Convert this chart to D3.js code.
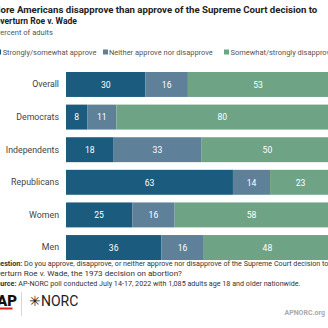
<!DOCTYPE html>
<html><head><meta charset="utf-8">
<script src="https://cdn.jsdelivr.net/npm/d3@7"></script>
<style>body{margin:0;background:#fff;overflow:hidden}svg{display:block;font-family:Roboto,"Noto Sans",sans-serif}</style>
</head><body>
<script>
const categories = ["Overall","Democrats","Independents","Republicans","Women","Men"];
const approve = [30,8,18,63,25,36];
const neither = [16,11,33,14,16,16];
const disapprove = [53,80,50,23,58,48];
const seriesNames = ["Strongly/somewhat approve","Neither approve nor disapprove","Somewhat/strongly disapprove"];
const colors = ["#1b5b7e","#5e8099","#6ea386"];

const W=328,H=328;
const svg=d3.select("body").append("svg").attr("width",W).attr("height",H);

// helper: place multi-part text so visible portion (after prefix) spans x0..x1
function fitLine(parts, prefix, prefixBold, x0, x1, y, fill){
  const base=10;
  const t=svg.append("text").attr("y",y).attr("font-size",base).attr("fill",fill);
  parts.forEach(p=>t.append("tspan").attr("font-weight",p.b?700:400).text(p.t));
  const full=t.node().getComputedTextLength();
  const m=svg.append("text").attr("font-size",base).attr("font-weight",prefixBold?700:400).text(prefix);
  const pw=prefix?m.node().getComputedTextLength():0; m.remove();
  const s=(x1-x0)/(full-pw);
  t.attr("font-size",base*s).attr("x",x0-pw*s);
  return base*s;
}

fitLine([{t:"More Americans disapprove than approve of the Supreme Court decision to",b:1}],"M",1,0.5,318,12.5,"#222");
fitLine([{t:"overturn Roe v. Wade",b:1}],"o",1,0.3,77,23.5,"#222");
fitLine([{t:"Percent of adults"}],"P",0,0.3,53,34.5,"#555");

// legend
const legFs=fitLine([{t:seriesNames[1]}],"",0,109,213,55,"#555");
svg.append("rect").attr("x",103).attr("y",49.5).attr("width",5).attr("height",5).attr("fill",colors[1]);
svg.append("rect").attr("x",-4).attr("y",49.5).attr("width",5).attr("height",5).attr("fill",colors[0]);
svg.append("text").attr("x",2.7).attr("y",55).attr("font-size",legFs).attr("fill","#555").text(seriesNames[0]);
svg.append("rect").attr("x",224).attr("y",49.5).attr("width",5).attr("height",5).attr("fill",colors[2]);
svg.append("text").attr("x",230.5).attr("y",55).attr("font-size",legFs).attr("fill","#555").text(seriesNames[2]);

const rows=categories.map((c,i)=>({c,vals:[approve[i],neither[i],disapprove[i]]}));
const x=d3.scaleLinear().domain([0,100]).range([66,331]);
const y=d3.scaleBand().domain(categories).range([72,260]).paddingInner(0.235).paddingOuter(0);

const g=svg.append("g");
rows.forEach(r=>{
  let acc=0;
  r.vals.forEach((v,k)=>{
    const x0=x(acc),x1=x(acc+v);
    g.append("rect").attr("x",x0).attr("y",y(r.c)).attr("width",x1-x0).attr("height",y.bandwidth()).attr("fill",colors[k]);
    g.append("text").attr("x",(x0+x1)/2).attr("y",y(r.c)+y.bandwidth()/2+3.2).attr("text-anchor","middle")
      .attr("font-size",8.6).attr("fill","#fff").text(v);
    acc+=v;
  });
});
const yAxis=d3.axisLeft(y).tickSize(0).tickPadding(0);
const ya=svg.append("g").attr("transform","translate(59,0)").call(yAxis);
ya.select(".domain").remove();
ya.selectAll("text").attr("font-size",8.8).attr("fill","#444").attr("font-family","Roboto,sans-serif");

// footer
fitLine([{t:"Question: ",b:1},{t:"Do you approve, disapprove, or neither approve nor disapprove of the Supreme Court decision to"}],"Qu",1,0.3,329,266,"#333");
fitLine([{t:"overturn Roe v. Wade, the 1973 decision on abortion?"}],"ov",0,0.3,182,276,"#333");
fitLine([{t:"Source: ",b:1},{t:"AP-NORC poll conducted July 14-17, 2022 with 1,085 adults age 18 and older nationwide."}],"So",1,0.3,301,286,"#333");

// logos
svg.append("text").attr("x",-3).attr("y",306).attr("font-size",15).attr("font-weight",900).attr("fill","#111").text("AP");
svg.append("rect").attr("x",0).attr("y",307.5).attr("width",12.5).attr("height",2).attr("fill","#d22");
svg.append("line").attr("x1",21.5).attr("x2",21.5).attr("y1",292).attr("y2",316).attr("stroke","#ccc").attr("stroke-width",0.8);
svg.append("text").attr("x",29).attr("y",305.5).attr("font-size",14).attr("fill","#222").text("\u2733NORC");
svg.append("text").attr("x",325).attr("y",315).attr("text-anchor","end").attr("font-size",7).attr("font-weight",700).attr("fill","#aaa").text("APNORC.org");
</script>
</body></html>
